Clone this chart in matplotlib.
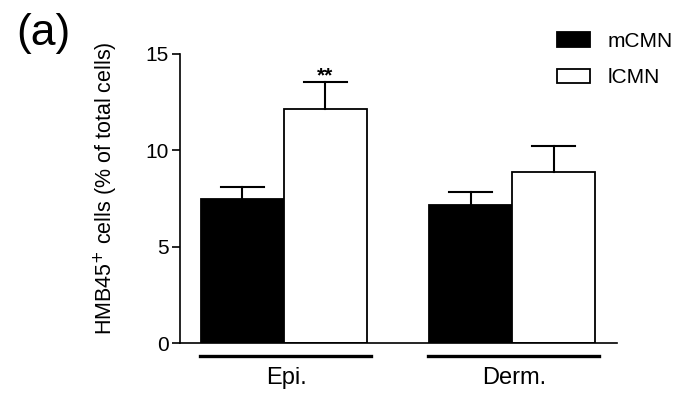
import numpy as np
import matplotlib.pyplot as plt
import matplotlib.transforms as mtransforms

plt.rcParams['font.family'] = ['Liberation Sans', 'DejaVu Sans']

groups = ["Epi.", "Derm."]
series = ["mCMN", "lCMN"]
mcmn_mean = [7.5, 7.15]
mcmn_err = [0.6, 0.68]
lcmn_mean = [12.14, 8.87]
lcmn_err = [1.4, 1.35]
yticks = [0, 5, 10, 15]

fig = plt.figure(figsize=(6.81, 3.95), dpi=100)
ax = fig.add_axes([0.2643, 0.1316, 0.642, 0.7317])

x = np.arange(len(groups))
w = 0.364
cap = 0.094

ax.bar(x - w / 2, mcmn_mean, w, color="black", edgecolor="black", lw=1.3, label=series[0])
ax.bar(x + w / 2, lcmn_mean, w, color="white", edgecolor="black", lw=1.3, label=series[1])

# one-sided (upper) error bars with caps
for xs, m, e in [(x - w / 2, mcmn_mean, mcmn_err), (x + w / 2, lcmn_mean, lcmn_err)]:
    for xi, mi, ei in zip(xs, m, e):
        ax.plot([xi, xi], [mi, mi + ei], color="black", lw=1.5, zorder=3)
        ax.plot([xi - cap, xi + cap], [mi + ei, mi + ei], color="black", lw=1.5, zorder=3)

# significance
ax.text(x[0] + w / 2, lcmn_mean[0] + lcmn_err[0] + 0.05, "**", ha="center", va="baseline",
        fontsize=15, fontweight="bold")

ax.set_xlim(-0.456, 1.461)
ax.set_ylim(0, 15)
ax.set_yticks(yticks)
ax.set_yticklabels([str(t) for t in yticks], fontsize=15)
ax.set_xticks([])
ax.tick_params(axis="y", direction="out", length=5.5, width=1.2, pad=2.5)
for s in ["top", "right"]:
    ax.spines[s].set_visible(False)
ax.spines["left"].set_linewidth(1.2)
ax.spines["bottom"].set_linewidth(1.2)

ax.set_ylabel("HMB45$^{+}$ cells (% of total cells)", fontsize=15.5)
ax.yaxis.set_label_coords(-0.138, 0.535)

# group underlines and labels
trans = mtransforms.blended_transform_factory(ax.transData, ax.transAxes)
for xi, g in zip(x, groups):
    ax.plot([xi - 0.37, xi + 0.38], [-0.045, -0.045], color="black", lw=2.4,
            transform=trans, clip_on=False)
    ax.text(xi + 0.01, -0.12, g, ha="center", va="center", fontsize=17, transform=trans)

ax.legend(loc="upper left", bbox_to_anchor=(557 / 681, 1 - 32 / 395),
          bbox_transform=fig.transFigure, frameon=False, fontsize=15,
          handlelength=1.58, handleheight=0.72, handletextpad=0.85,
          labelspacing=0.83, borderpad=0, borderaxespad=0)

fig.text(16 / 681, 1 - 33 / 395, "(a)", fontsize=32, va="center", ha="left")

fig.savefig("out.png", dpi=100)
